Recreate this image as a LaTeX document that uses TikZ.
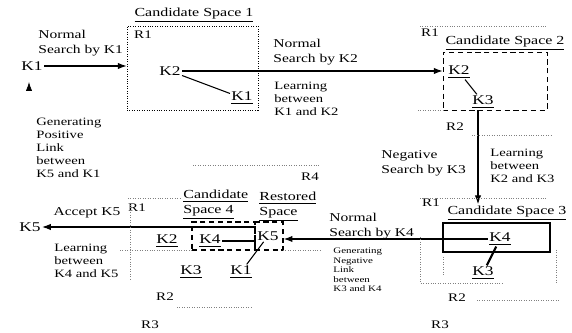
\documentclass[tikz,border=0pt]{standalone}
\usepackage{fontspec}
\setmainfont{Liberation Serif}
\newfontfamily\figfont[FakeStretch=1.3]{Liberation Serif}
\usetikzlibrary{arrows.meta}

\begin{document}
\begin{tikzpicture}[x=0.02cm, y=-0.02cm, >={Latex[length=5pt,width=3.6pt]},
        every node/.style={inner sep=0.6pt, font=\figfont\fontsize{6.8}{8.5}\selectfont},
        txt/.style={anchor=north west, align=left},
        note/.style={txt, font=\figfont\fontsize{6.4}{7.3}\selectfont},
        tinynote/.style={txt, font=\figfont\fontsize{4.8}{5.4}\selectfont},
        title/.style={font=\figfont\fontsize{7}{8.4}\selectfont},
        key/.style={font=\figfont\fontsize{7.6}{9}\selectfont},
        reg/.style={font=\figfont\fontsize{6.6}{8}\selectfont},
        space/.style={draw, inner sep=0},
        zone/.style={densely dotted, gray},
        link/.style={semithick}]
    \useasboundingbox (0,0) rectangle (572,333);

    % candidate space 1
    \node[space, densely dotted, minimum width=2.62cm, minimum height=1.68cm] (cs1) at (192.5,68) {};
    \node[title] (t1) at (194,15) {\underline{Candidate Space 1}};
    \node[reg] (r1a) at (143,35) {R1};
    \node[key] (k1) at (32,66) {K1};
    \node[key] (c1k2) at (170,71) {K2};
    \node[key] (c1k1) at (242,98) {\underline{K1}};
    \node[txt] (ns1) at (37,29) {Normal\\Search by K1};
    \node[note] (gp) at (35,117) {Generating\\Positive\\Link\\between\\K5 and K1};
    \coordinate (up) at (29,91);

    % candidate space 2
    \node[space, densely dashed, minimum width=2.08cm, minimum height=1.16cm] (cs2) at (495,81) {};
    \node[title] (t2) at (505,43) {\underline{Candidate Space 2}};
    \node[reg] (r1b) at (430,33) {R1};
    \node[reg] (r2b) at (455,127) {R2};
    \node[key] (c2k2) at (459,72) {\underline{K2}};
    \node[key] (c2k3) at (483,102) {\underline{K3}};
    \node[txt] (ns2) at (272,38) {Normal\\Search by K2};
    \node[note] (l12) at (273,81) {Learning\\between\\K1 and K2};
    \node[txt] (ng3) at (380,149) {Negative\\Search by K3};
    \node[note] (l23) at (489,148) {Learning\\between\\K2 and K3};
    \node[reg] (r4) at (310,177) {R4};
    \coordinate (vx) at (478,0);

    % candidate space 3
    \node[space, semithick, minimum width=2.14cm, minimum height=0.58cm] (cs3) at (496.5,237.5) {};
    \node[title] (t3) at (507,213) {\underline{Candidate Space 3}};
    \node[reg] (r1c) at (431,203) {R1};
    \node[reg] (r2c) at (457,298) {R2};
    \node[reg] (r3c) at (440,325) {R3};
    \node[key] (c3k4) at (500,239) {\underline{K4}};
    \node[key] (c3k3) at (483,273) {\underline{K3}};
    \node[txt] (ns4) at (328,212) {Normal\\Search by K4};
    \node[tinynote] (gn) at (332,247) {Generating\\Negative\\Link\\between\\K3 and K4};

    % candidate space 4 and restored space
    \node[space, densely dashed, thick, minimum width=1.26cm, minimum height=0.56cm] (cs4) at (223.5,236) {};
    \node[space, densely dashed, thick, minimum width=0.56cm, minimum height=0.56cm] (cs5) at (269,236) {};
    \node[title, txt] (t4) at (182,189) {\underline{Candidate}\\\underline{Space 4}};
    \node[title, txt] (t5) at (258,191) {\underline{Restored}\\\underline{Space}};
    \node[reg] (r1d) at (137,208) {R1};
    \node[reg] (r2d) at (165,297) {R2};
    \node[reg] (r3d) at (150,325) {R3};
    \node[key] (c4k2) at (167,241) {\underline{K2}};
    \node[key] (c4k4) at (210,241) {\underline{K4}};
    \node[key] (c5k5) at (268,236) {K5};
    \node[key] (c4k3) at (191,272) {\underline{K3}};
    \node[key] (c4k1) at (241,272) {\underline{K1}};
    \node[key] (k5) at (30,227) {K5};
    \node (acc) at (87,213) {Accept K5};
    \node[note] (l45) at (53,243) {Learning\\between\\K4 and K5};
    \coordinate (ak) at (255,227);

    % connectors
    \draw[->, semithick] (k1) -- (k1 -| cs1.west);
    \draw[-{Latex[length=5pt,width=3.5pt]}] (up) -- ++(0,-9);
    \draw[link] (c1k2) -- (c1k1);
    \draw[->, semithick] (c1k2) -- (c1k2 -| cs2.west);
    \draw[link] (c2k2) -- (c2k3);
    \draw[->, semithick] (cs2.south -| vx) -- (t3.north -| vx);
    \draw[very thick] (c3k4) -- (c3k3);
    \draw[->, semithick] (c3k4) -- (c3k4 -| cs5.east);
    \draw[link] (c4k4) -- (c4k4 -| cs5.west);
    \draw[link] (c4k1) -- (c5k5);
    \draw[->, semithick] (ak) -- (k5);

    % region borders
    \draw[zone] (420,26) -- (547,26);
    \draw[zone] (418,110) -- (443,110);
    \draw[zone] (472,135) -- (553,135);
    \draw[zone] (193,165) -- (320,165);
    \draw[zone] (420,198) -- (547,198);
    \draw[zone] (420,237) -- (420,283) -- (503,283);
    \draw[zone] (443,257) -- (443,275);
    \draw[zone] (556,250) -- (556,282);
    \draw[zone] (477,300) -- (560,300);
    \draw[zone] (128,198) -- (182,198);
    \draw[zone] (130,205) -- (130,280);
    \draw[zone] (120,250) -- (192,250);
    \draw[zone] (283,250) -- (320,250);
    \draw[zone] (177,307) -- (253,307);
\end{tikzpicture}
\end{document}
